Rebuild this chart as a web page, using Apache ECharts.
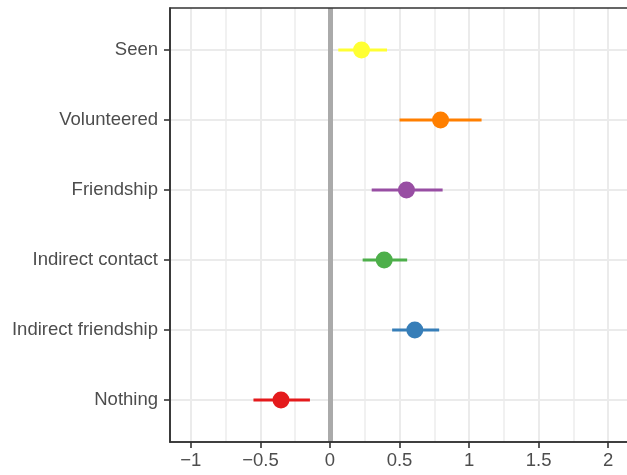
<!DOCTYPE html>
<html><head><meta charset="utf-8">
<script src="https://cdn.jsdelivr.net/npm/echarts@6/dist/echarts.min.js"></script>
<style>html,body{margin:0;padding:0;background:#fff}#c{width:627px;height:475px}</style>
</head><body><div id="c"></div>
<script>
const categories = ['Nothing', 'Indirect friendship', 'Indirect contact', 'Friendship', 'Volunteered', 'Seen'];
const estimates = [-0.352, 0.61, 0.39, 0.55, 0.795, 0.227];
const lower = [-0.55, 0.447, 0.235, 0.30, 0.50, 0.06];
const upper = [-0.144, 0.785, 0.555, 0.81, 1.09, 0.41];
const colors = ['#E41A1C', '#377EB8', '#4DAF4A', '#984EA3', '#FF7F00', '#FFFF33'];
const xTicks = [-1, -0.5, 0, 0.5, 1, 1.5, 2];
const xMinor = [-0.75, -0.25, 0.25, 0.75, 1.25, 1.75];
const yTicks = [0, 1, 2, 3, 4, 5];

const chart = echarts.init(document.getElementById('c'), null, {renderer: 'canvas'});
const fmtX = v => (v < 0 ? '\u2212' + Math.abs(v) : String(v));
const gridLine = (vals, key, color, width, z) => ({
  type: 'scatter', data: [], silent: true, animation: false, z: z,
  markLine: {
    silent: true, animation: false, symbol: ['none', 'none'], z: z,
    label: {show: false}, emphasis: {disabled: true},
    lineStyle: {color: color, width: width, type: 'solid'},
    data: vals.map(v => ({[key]: v}))
  }
});

chart.setOption({
  animation: false,
  backgroundColor: '#ffffff',
  grid: {left: 170, width: 460, top: 8, bottom: 33, show: true, borderColor: '#333333', borderWidth: 1.6, z: 10,
         outerBoundsMode: 'none', containLabel: false},
  xAxis: {
    type: 'value', min: -1.15, max: 2.157, z: 10,
    axisLine: {show: true, onZero: false, lineStyle: {color: '#333333', width: 1.6}},
    axisTick: {show: true, length: 6, customValues: xTicks, lineStyle: {color: '#333333', width: 1.6}},
    axisLabel: {customValues: xTicks, formatter: fmtX, color: '#4D4D4D', fontSize: 18.5, fontFamily: 'Liberation Sans', margin: 9},
    splitLine: {show: false}
  },
  yAxis: {
    type: 'value', min: -0.6, max: 5.6, z: 10,
    axisLine: {show: true, onZero: false, lineStyle: {color: '#333333', width: 1.6}},
    axisTick: {show: true, length: 6, customValues: yTicks, lineStyle: {color: '#333333', width: 1.6}},
    axisLabel: {customValues: yTicks, formatter: v => categories[Math.round(v)], color: '#4D4D4D', fontSize: 18.5, fontFamily: 'Liberation Sans', margin: 12},
    splitLine: {show: false}
  },
  series: [
    gridLine(xMinor, 'xAxis', '#EDEDED', 1.5, 1),
    gridLine(xTicks, 'xAxis', '#EBEBEB', 2, 1),
    gridLine(yTicks, 'yAxis', '#EBEBEB', 2, 1),
    gridLine([0], 'xAxis', '#AAAAAA', 5, 2),
    {
      type: 'custom', z: 3, silent: true,
      data: categories.map((c, i) => [lower[i], upper[i], i]),
      encode: {x: [0, 1], y: 2},
      renderItem: (params, api) => {
        const i = params.dataIndex;
        const p1 = api.coord([api.value(0), api.value(2)]);
        const p2 = api.coord([api.value(1), api.value(2)]);
        return {type: 'line', shape: {x1: p1[0], y1: p1[1], x2: p2[0], y2: p2[1]},
                style: {stroke: colors[i], lineWidth: 3}};
      }
    },
    {
      type: 'scatter', z: 4, symbolSize: 17, silent: true,
      data: categories.map((c, i) => ({value: [estimates[i], i], itemStyle: {color: colors[i], opacity: 1}}))
    }
  ]
});
</script></body></html>
